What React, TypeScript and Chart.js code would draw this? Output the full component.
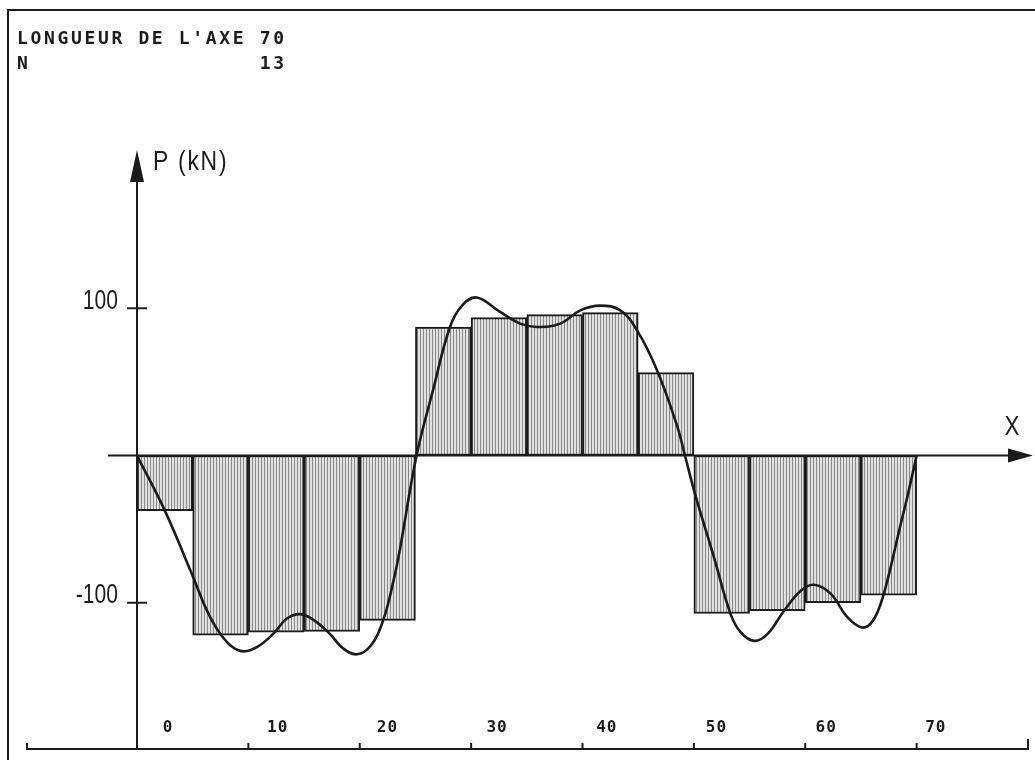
import React, { useEffect, useRef } from 'react';
import { Chart, registerables } from 'chart.js';

Chart.register(...registerables);

// ---- data ----
const barPositions = [2.5, 7.5, 12.5, 17.5, 22.5, 27.5, 32.5, 37.5, 42.5, 47.5, 52.5, 57.5, 62.5, 67.5];
const barValues = [-37.4, -122, -120, -119.5, -112, 87.3, 93.7, 95.7, 97, 56.3, -107.3, -105.4, -100, -94.8];

const curveX = [
  0, 2.5, 4.9, 6.2, 7.2, 8.4, 9.55, 10.8, 12.25, 13.4, 14.65, 15.9, 17.3, 18.5, 19.75, 21.0, 22.1, 23.0, 23.6, 25.1,
  26.6, 28.1, 29.2, 30.5, 32.6, 34.4, 35.9, 38.0, 39.8, 41.6, 43.4, 44.9, 46.7, 48.5, 49.2,
  50.1, 51.8, 53.3, 54.2, 55.4, 56.6, 58.1, 59.6, 60.8, 62.3, 63.8, 65.1, 66.0, 66.8, 67.6, 68.4, 69.2, 70,
];
const curveY = [
  0, -37.4, -80, -104, -118, -129, -133, -130, -121, -111, -107.7, -112, -121, -131, -135, -129, -112, -86, -64, 0,
  45, 87.3, 102, 107.3, 97.5, 89.6, 87.3, 89.6, 98.6, 101.8, 98.6, 85, 57.8, 20, 0,
  -26, -69, -107.7, -120, -125.9, -121.3, -105.4, -91.8, -87.8, -94, -110, -116.8, -113, -100, -78, -52, -27, 0,
];

const xTickValues = [0, 10, 20, 30, 40, 50, 60, 70];
const xTickLabels = ['0', '10', '20', '30', '40', '50', '60', '70'];
const xTickMarks = [10, 20, 30, 40, 50, 60, 70];
const xAxisEnd = 80;
const yTickValues = [100, -100];
const yTickLabels = ['100', '-100'];
const headerLines = ["LONGUEUR DE L'AXE 70", 'N                 13'];
const yAxisTitle = 'P (kN)';
const xAxisTitle = 'X';

const INK = '#1b1b1b';
const THIN_FONT = "'Liberation Sans', Arial, sans-serif";
const MONO_FONT = "'DejaVu Sans Mono', 'Liberation Mono', monospace";

function setSpacing(ctx: CanvasRenderingContext2D, v: string) {
  if ('letterSpacing' in ctx) (ctx as any).letterSpacing = v;
}

function squeezedText(ctx: CanvasRenderingContext2D, text: string, x: number, y: number, sx: number) {
  ctx.save();
  ctx.translate(x, y);
  ctx.scale(sx, 1);
  ctx.fillText(text, 0, 0);
  ctx.restore();
}

const decorPlugin = {
  id: 'decor',
  afterDatasetsDraw(chart: any) {
    const { ctx, chartArea: a, scales } = chart;
    const xs = scales.x;
    const xl = scales.xl;
    const ys = scales.y;
    const x0 = xs.getPixelForValue(0);
    const y0 = ys.getPixelForValue(0);
    ctx.save();
    ctx.strokeStyle = INK;
    ctx.fillStyle = INK;
    ctx.lineWidth = 2;
    ctx.lineCap = 'butt';

    // frame (top and left)
    ctx.beginPath();
    ctx.moveTo(8, 760);
    ctx.lineTo(8, 10);
    ctx.lineTo(1035, 10);
    ctx.stroke();

    // y axis with arrow
    ctx.beginPath();
    ctx.moveTo(x0, a.bottom);
    ctx.lineTo(x0, a.top + 28);
    ctx.stroke();
    ctx.beginPath();
    ctx.moveTo(x0, a.top);
    ctx.lineTo(x0 - 7, a.top + 32);
    ctx.lineTo(x0 + 7, a.top + 32);
    ctx.closePath();
    ctx.fill();

    // x axis with arrow
    ctx.beginPath();
    ctx.moveTo(x0 - 29, y0);
    ctx.lineTo(a.right - 18, y0);
    ctx.stroke();
    ctx.beginPath();
    ctx.moveTo(a.right + 5, y0);
    ctx.lineTo(a.right - 20, y0 - 7);
    ctx.lineTo(a.right - 20, y0 + 7);
    ctx.closePath();
    ctx.fill();

    // y ticks + labels
    ctx.font = `27px ${THIN_FONT}`;
    ctx.textAlign = 'right';
    ctx.textBaseline = 'middle';
    yTickValues.forEach((v, i) => {
      const py = ys.getPixelForValue(v);
      ctx.beginPath();
      ctx.moveTo(x0 - 10, py);
      ctx.lineTo(x0 + 10, py);
      ctx.stroke();
      squeezedText(ctx, yTickLabels[i], x0 - 19, py - 7, 0.78);
    });

    // axis titles
    ctx.textAlign = 'left';
    setSpacing(ctx, '2px');
    squeezedText(ctx, yAxisTitle, x0 + 16, a.top + 13, 0.85);
    setSpacing(ctx, '0px');
    ctx.font = `28px ${THIN_FONT}`;
    ctx.textAlign = 'center';
    squeezedText(ctx, xAxisTitle, a.right - 16, y0 - 28, 0.8);

    // bottom reference axis
    const by = a.bottom - 1;
    ctx.beginPath();
    ctx.moveTo(27, by - 6);
    ctx.lineTo(27, by);
    ctx.lineTo(xs.getPixelForValue(xAxisEnd), by);
    ctx.lineTo(xs.getPixelForValue(xAxisEnd), by - 10);
    ctx.stroke();
    xTickMarks.forEach((v) => {
      const px = xs.getPixelForValue(v);
      ctx.beginPath();
      ctx.moveTo(px, by);
      ctx.lineTo(px, by - 6);
      ctx.stroke();
    });
    ctx.font = `bold 16px ${MONO_FONT}`;
    setSpacing(ctx, '1px');
    ctx.textAlign = 'center';
    xTickValues.forEach((v, i) => {
      ctx.fillText(xTickLabels[i], xl.getPixelForValue(v), 728);
    });

    // header text
    ctx.font = `bold 18px ${MONO_FONT}`;
    setSpacing(ctx, '2.65px');
    ctx.textAlign = 'left';
    ctx.textBaseline = 'alphabetic';
    ctx.fillText(headerLines[0], 17, 44);
    ctx.fillText(headerLines[1], 17, 69);
    setSpacing(ctx, '0px');
    ctx.restore();
  },
};

export default function App() {
  const ref = useRef<HTMLCanvasElement>(null);

  useEffect(() => {
    document.body.style.margin = '0';
    const canvas = ref.current;
    if (!canvas) return;
    const c2d = canvas.getContext('2d')!;

    const pc = document.createElement('canvas');
    pc.width = 3;
    pc.height = 1;
    const pctx = pc.getContext('2d')!;
    pctx.fillStyle = '#e0e0e0';
    pctx.fillRect(0, 0, 3, 1);
    pctx.fillStyle = '#8a8a8a';
    pctx.fillRect(0, 0, 1, 1);
    const pattern = c2d.createPattern(pc, 'repeat') as CanvasPattern;

    const chart = new Chart(canvas, {
      type: 'bar',
      data: {
        datasets: [
          {
            type: 'line',
            data: curveX.map((x, i) => ({ x, y: curveY[i] })),
            borderColor: INK,
            borderWidth: 2.6,
            pointRadius: 0,
            tension: 0.4,
            cubicInterpolationMode: 'default',
            fill: false,
            order: 0,
          } as any,
          {
            type: 'bar',
            data: barPositions.map((x, i) => ({ x, y: barValues[i] })),
            backgroundColor: pattern,
            borderColor: INK,
            borderWidth: 2,
            borderSkipped: false,
            barPercentage: 1,
            categoryPercentage: 1,
            order: 1,
          } as any,
        ],
      },
      options: {
        animation: false,
        responsive: false,
        devicePixelRatio: 1,
        events: [],
        layout: { padding: { left: 137, right: 7, top: 150, bottom: 10 } },
        plugins: {
          legend: { display: false },
          tooltip: { enabled: false },
          title: { display: false },
        },
        scales: {
          x: { type: 'linear', min: 0, max: 80, display: false, offset: false, grid: { offset: false } },
          xl: { type: 'linear', axis: 'x', min: -2.83, max: 78.4, display: false, offset: false, grid: { offset: false } },
          y: { type: 'linear', min: -200, max: 207.5, display: false },
        } as any,
      },
      plugins: [decorPlugin],
    });

    return () => chart.destroy();
  }, []);

  return (
    <div style={{ position: 'absolute', left: 0, top: 0, width: 1035, height: 760, background: '#fff' }}>
      <canvas ref={ref} width={1035} height={760} style={{ display: 'block' }} />
    </div>
  );
}
